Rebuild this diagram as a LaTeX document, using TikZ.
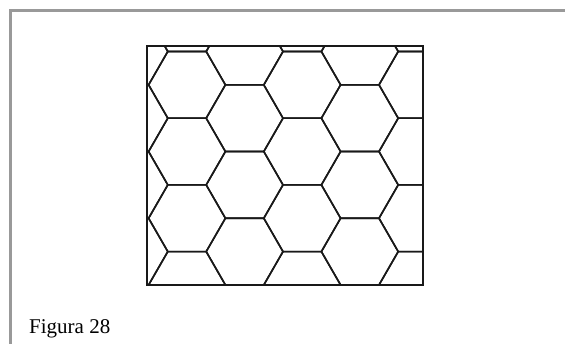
\documentclass[tikz,border=0pt]{standalone}
\usepackage{fontspec}
\setmainfont{Liberation Serif}
\begin{document}
\begin{tikzpicture}[x=1pt,y=-1pt,
  frameline/.style={draw=black!40,line width=2.5pt},
  hexline/.style={draw=black!90,line width=1.6pt,line join=round},
  boxline/.style={draw=black!90,line width=2pt}]
\useasboundingbox (0,0) rectangle (565,344);
% page frame
\draw[frameline] (10.5,344) -- (10.5,10.5) -- (565,10.5);
% honeycomb, clipped to the box
\begin{scope}
\clip (147,46) rectangle (423,285);
\foreach \i in {-1,...,5} {
  \foreach \j in {-1,...,4} {
    \pgfmathsetmacro{\cx}{187+57.6*\i}
    \pgfmathsetmacro{\cy}{84.85+66.7*\j+33.35*mod(\i+2,2)}
    \draw[hexline] (\cx,\cy) +(-38.4,0) -- +(-19.2,-33.35) -- +(19.2,-33.35)
      -- +(38.4,0) -- +(19.2,33.35) -- +(-19.2,33.35) -- cycle;
  }
}
\end{scope}
\draw[boxline] (147,46) rectangle (423,285);
\node[font=\fontsize{21}{25}\selectfont,anchor=base west,inner sep=0pt] (caption) at (29,334) {Figura 28};
\end{tikzpicture}
\end{document}
